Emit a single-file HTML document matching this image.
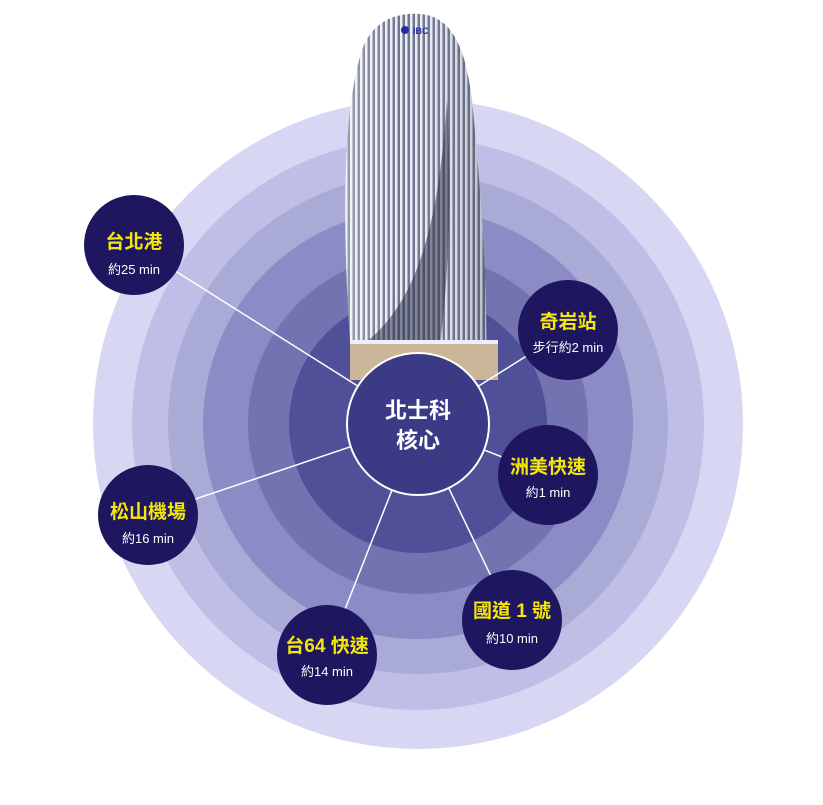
<!DOCTYPE html>
<html><head><meta charset="utf-8"><style>
html,body{margin:0;padding:0;background:#fff;}
body{width:823px;height:800px;position:relative;overflow:hidden;font-family:"Liberation Sans","Noto Sans CJK TC",sans-serif;}
</style></head><body>
<svg width="823" height="800" viewBox="0 0 823 800" xmlns="http://www.w3.org/2000/svg">
<defs>
<pattern id="st" width="5" height="10" patternUnits="userSpaceOnUse">
<rect width="5" height="10" fill="#6e7490"/>
<rect width="2.5" height="10" fill="#eceef4"/>
</pattern>
<linearGradient id="sh" x1="0" x2="1" y1="0" y2="0">
<stop offset="0" stop-color="#ffffff" stop-opacity="0.3"/>
<stop offset="0.4" stop-color="#ffffff" stop-opacity="0"/>
<stop offset="1" stop-color="#20243a" stop-opacity="0.25"/>
</linearGradient>
</defs>
<g>
<circle cx="418" cy="424" r="325" fill="#d7d7f4"/>
<circle cx="418" cy="424" r="286" fill="#bebee6"/>
<circle cx="418" cy="424" r="250" fill="#aaaad6"/>
<circle cx="418" cy="424" r="215" fill="#8b8bc5"/>
<circle cx="418" cy="424" r="170" fill="#7373b1"/>
<circle cx="418" cy="424" r="129" fill="#505099"/>
</g>
<path d="M352 370 C343 250 340 120 362 50 C372 22 395 12 420 14 C448 16 465 40 472 100 C482 200 488 300 486 370 Z" fill="url(#st)"/>
<path d="M352 370 C343 250 340 120 362 50 C372 22 395 12 420 14 C448 16 465 40 472 100 C482 200 488 300 486 370 Z" fill="url(#sh)"/>
<path d="M447 100 C440 200 425 300 362 345 L440 345 C452 250 450 160 447 100Z" fill="#2e3248" opacity="0.55"/>
<circle cx="405" cy="30" r="4" fill="#2030a0"/>
<text x="413" y="34" font-size="9" font-weight="bold" fill="#2030a0">IBC</text>
<rect x="350" y="342" width="148" height="38" fill="#cbb699"/>
<rect x="350" y="340" width="148" height="4" fill="#eef"/>
<g stroke="#fff" stroke-width="1.5">
<line x1="418" y1="424" x2="134" y2="245"/>
<line x1="418" y1="424" x2="568" y2="330"/>
<line x1="418" y1="424" x2="548" y2="475"/>
<line x1="418" y1="424" x2="148" y2="515"/>
<line x1="418" y1="424" x2="512" y2="620"/>
<line x1="418" y1="424" x2="327" y2="655"/>
</g>
<circle cx="418" cy="424" r="71" fill="#3b3a85" stroke="#fff" stroke-width="2"/>
<text x="418" y="418" fill="#fff" font-size="22" font-weight="bold" text-anchor="middle">北士科</text>
<text x="418" y="448" fill="#fff" font-size="22" font-weight="bold" text-anchor="middle">核心</text>
<g fill="#1e165e">
<circle cx="134" cy="245" r="50"/>
<circle cx="568" cy="330" r="50"/>
<circle cx="548" cy="475" r="50"/>
<circle cx="148" cy="515" r="50"/>
<circle cx="512" cy="620" r="50"/>
<circle cx="327" cy="655" r="50"/>
</g>
<g font-size="19" font-weight="bold" fill="#f4e70a" text-anchor="middle">
<text x="134" y="248">台北港</text>
<text x="568" y="328">奇岩站</text>
<text x="548" y="473">洲美快速</text>
<text x="148" y="518">松山機場</text>
<text x="512" y="617">國道 1 號</text>
<text x="327" y="652">台64 快速</text>
</g>
<g font-size="13" fill="#fff" text-anchor="middle">
<text x="134" y="274">約25 min</text>
<text x="568" y="352">步行約2 min</text>
<text x="548" y="497">約1 min</text>
<text x="148" y="543">約16 min</text>
<text x="512" y="643">約10 min</text>
<text x="327" y="676">約14 min</text>
</g>
</svg>
</body></html>
